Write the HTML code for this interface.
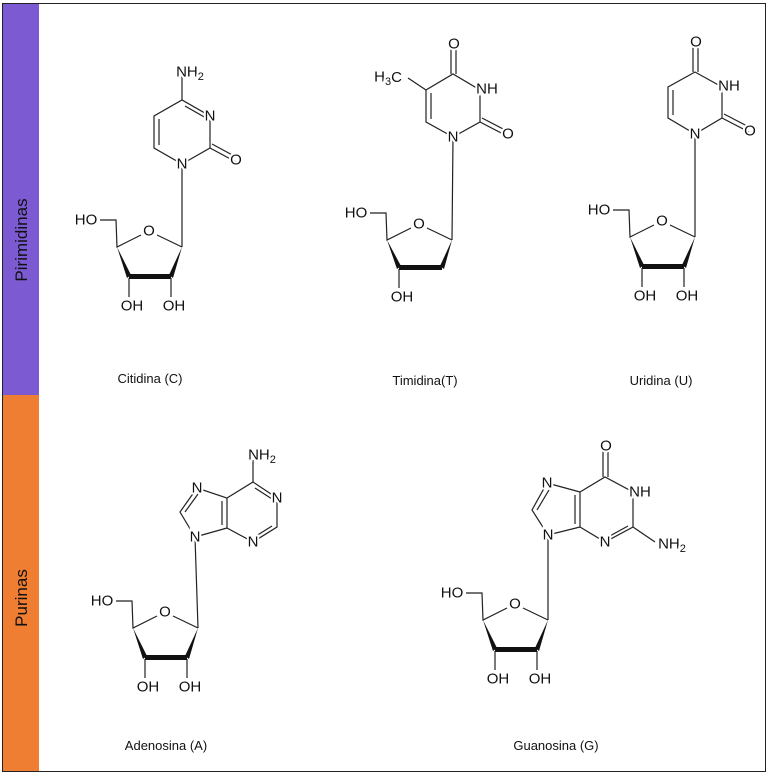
<!DOCTYPE html>
<html><head><meta charset="utf-8"><style>
body{margin:0;background:#fff;width:768px;height:775px;overflow:hidden}
svg{display:block}
.b{stroke:#222;stroke-width:1.2;fill:none}
.a{font-family:"Liberation Sans",sans-serif;font-size:15px;fill:#111;stroke:#fff;stroke-width:4;paint-order:stroke;text-anchor:middle;dominant-baseline:central}
.l{font-family:"Liberation Sans",sans-serif;font-size:13px;fill:#111;text-anchor:middle}
.s{font-size:11px}
</style></head><body>
<svg width="768" height="775" viewBox="0 0 768 775">
<rect x="2.5" y="3.5" width="763" height="768" fill="#fff" stroke="#222" stroke-width="1"/>
<rect x="3" y="4" width="36" height="391" fill="#7c5ad2"/>
<rect x="3" y="395" width="36" height="376" fill="#ef7d32"/>
<text transform="translate(27,240) rotate(-90)" font-family="Liberation Sans,sans-serif" font-size="17" text-anchor="middle" fill="#111">Pirimidinas</text>
<text transform="translate(27,598) rotate(-90)" font-family="Liberation Sans,sans-serif" font-size="17" text-anchor="middle" fill="#111">Purinas</text>

<defs>
<g id="sug">
<path class="b" d="M-82,-27 L-66,-27 L-65,0 L-41,-12 M-25,-12 L0,0"/>
<polygon points="-65,0 -55,31 -51,28" fill="#111"/>
<line x1="-53" y1="29.5" x2="-11" y2="29.5" stroke="#111" stroke-width="5"/>
<polygon points="0,0 -13,28 -9,31" fill="#111"/>
<text class="a" x="-33" y="-16" style="stroke:none">O</text>
<text class="a" x="-96" y="-27" style="stroke:none">HO</text>
<line class="b" x1="-53" y1="31" x2="-53" y2="50"/>
<text class="a" x="-50" y="59" style="stroke:none">OH</text>
</g>
</defs>

<!-- Cytidine -->
<g transform="translate(182,247)"><use href="#sug"/>
<line class="b" x1="-11" y1="31" x2="-11" y2="50"/><text class="a" x="-8" y="59">OH</text></g>
<line class="b" x1="182" y1="247" x2="182" y2="164"/>
<path class="b" d="M182,164 L210,148 L210,116 L182,100 L154,116 L154,148 Z"/>
<line class="b" x1="159" y1="119" x2="159" y2="145"/>
<line class="b" x1="185" y1="106" x2="206" y2="118"/>
<line class="b" x1="210" y1="148" x2="236" y2="162"/>
<line class="b" x1="212" y1="144" x2="236" y2="157"/>
<line class="b" x1="182" y1="100" x2="182" y2="74"/>
<text class="a" x="182" y="164">N</text>
<text class="a" x="210" y="116">N</text>
<text class="a" x="236" y="160">O</text>
<text class="a" x="190" y="72">NH<tspan class="s" dy="5">2</tspan></text>

<!-- Thymidine -->
<g transform="translate(452,240)">
<path class="b" d="M-82,-27 L-66,-27 L-65,0 L-41,-12 M-25,-12 L0,0"/>
<polygon points="-65,0 -55,29 -51,26" fill="#111"/>
<line x1="-53" y1="27.5" x2="-10" y2="27.5" stroke="#111" stroke-width="5"/>
<polygon points="0,0 -12,26 -8,29" fill="#111"/>
<text class="a" x="-33" y="-16">O</text>
<text class="a" x="-96" y="-27">HO</text>
<line class="b" x1="-53" y1="29" x2="-53" y2="48"/>
<text class="a" x="-50" y="57">OH</text></g>
<line class="b" x1="452" y1="240" x2="453" y2="137"/>
<path class="b" d="M453,137 L480,122 L480,90 L453,74 L426,90 L426,122 Z"/>
<line class="b" x1="431" y1="93" x2="431" y2="119"/>
<line class="b" x1="451" y1="74" x2="451" y2="44"/>
<line class="b" x1="456" y1="74" x2="456" y2="44"/>
<line class="b" x1="480" y1="122" x2="507" y2="136"/>
<line class="b" x1="482" y1="118" x2="507" y2="131"/>
<line class="b" x1="426" y1="90" x2="408" y2="78"/>
<text class="a" x="453" y="137">N</text>
<text class="a" x="487" y="89">NH</text>
<text class="a" x="454" y="44">O</text>
<text class="a" x="508" y="134">O</text>
<text class="a" x="388" y="77">H<tspan class="s" dy="5">3</tspan><tspan dy="-5">C</tspan></text>

<!-- Uridine -->
<g transform="translate(695,237)"><use href="#sug"/>
<line class="b" x1="-11" y1="31" x2="-11" y2="50"/><text class="a" x="-8" y="59">OH</text></g>
<line class="b" x1="695" y1="237" x2="695" y2="134"/>
<path class="b" d="M695,134 L722,118 L722,87 L695,72 L668,87 L668,118 Z"/>
<line class="b" x1="673" y1="90" x2="673" y2="115"/>
<line class="b" x1="693" y1="72" x2="693" y2="42"/>
<line class="b" x1="698" y1="72" x2="698" y2="42"/>
<line class="b" x1="722" y1="118" x2="749" y2="132"/>
<line class="b" x1="724" y1="114" x2="749" y2="127"/>
<text class="a" x="695" y="134">N</text>
<text class="a" x="729" y="86">NH</text>
<text class="a" x="696" y="42">O</text>
<text class="a" x="750" y="131">O</text>

<!-- Adenosine -->
<g transform="translate(198,628)"><use href="#sug"/>
<line class="b" x1="-11" y1="31" x2="-11" y2="50"/><text class="a" x="-8" y="59">OH</text></g>
<path class="b" d="M198,628 L195,537 L180,512 L197,488 L227,498 L227,528 L195,537 M227,498 L253,482 L277,498 L277,527 L253,542 L227,528"/>
<line class="b" x1="185" y1="512" x2="198" y2="494"/>
<line class="b" x1="222" y1="501" x2="222" y2="525"/>
<line class="b" x1="255" y1="488" x2="272" y2="499"/>
<line class="b" x1="272" y1="526" x2="256" y2="536"/>
<line class="b" x1="253" y1="482" x2="253" y2="460"/>
<text class="a" x="195" y="537">N</text>
<text class="a" x="197" y="488">N</text>
<text class="a" x="277" y="498">N</text>
<text class="a" x="253" y="542">N</text>
<text class="a" x="262" y="455">NH<tspan class="s" dy="5">2</tspan></text>

<!-- Guanosine -->
<g transform="translate(548,620)"><use href="#sug"/>
<line class="b" x1="-11" y1="31" x2="-11" y2="50"/><text class="a" x="-8" y="59">OH</text></g>
<path class="b" d="M548,620 L548,535 L532,510 L547,483 L580,492 L580,527 L548,535 M580,492 L605,477 L633,492 L633,527 L605,542 L580,527 M633,527 L655,542"/>
<line class="b" x1="537" y1="510" x2="549" y2="490"/>
<line class="b" x1="575" y1="495" x2="575" y2="524"/>
<line class="b" x1="628" y1="526" x2="608" y2="537"/>
<line class="b" x1="603" y1="477" x2="603" y2="448"/>
<line class="b" x1="608" y1="477" x2="608" y2="448"/>
<text class="a" x="548" y="535">N</text>
<text class="a" x="547" y="483">N</text>
<text class="a" x="640" y="492">NH</text>
<text class="a" x="605" y="542">N</text>
<text class="a" x="606" y="446">O</text>
<text class="a" x="672" y="544">NH<tspan class="s" dy="5">2</tspan></text>

<text class="l" x="150" y="383">Citidina (C)</text>
<text class="l" x="425" y="385">Timidina(T)</text>
<text class="l" x="661" y="385">Uridina (U)</text>
<text class="l" x="166" y="750">Adenosina (A)</text>
<text class="l" x="556" y="750">Guanosina (G)</text>
</svg>
</body></html>
